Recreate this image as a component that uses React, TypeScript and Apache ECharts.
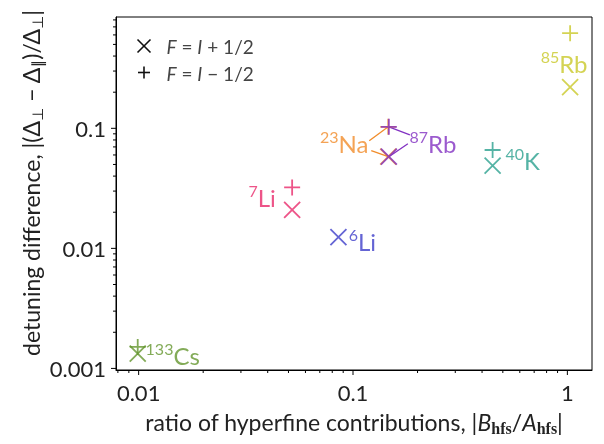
import React, { useEffect, useRef } from "react";
import * as echarts from "echarts";

// ---- data ----
const species = ["85Rb", "23Na", "87Rb", "40K", "7Li", "6Li", "133Cs"];
const massNumbers = ["85", "23", "87", "40", "7", "6", "133"];
const elements = ["Rb", "Na", "Rb", "K", "Li", "Li", "Cs"];
// ratio of hyperfine contributions |B_hfs / A_hfs|
const ratio = [1.03, 0.146, 0.147, 0.448, 0.052, 0.0855, 0.0099];
// detuning difference for F = I + 1/2 (×)
const detuningUpper = [0.22, 0.058, 0.058, 0.049, 0.0209, 0.0124, 0.00133];
// detuning difference for F = I - 1/2 (+)
const detuningLower = [0.62, 0.103, 0.103, 0.066, 0.0322, null, 0.00151];
const xTickLabels = ["0.01", "0.1", "1"];
const yTickLabels = ["0.001", "0.01", "0.1"];

// ---- styles ----
const colors = ["#c9c828", "#f18c2a", "#8231c2", "#2aa08e", "#e8296a", "#3d3dc9", "#64962e"];
const FONT = "Lato";
const X_MIN = 0.00784, X_MAX = 1.303;
const Y_MIN = 0.00097, Y_MAX = 0.846;

// label placement (pixel offsets of the label centre from the × marker)
const labelOffsets: Record<string, [number, number]> = {
  "85Rb": [-6, -24],
  "23Na": [-44, -13],
  "87Rb": [44, -13],
  "40K": [30, -5],
  "7Li": [-30, -12],
  "6Li": [24, 4],
  "133Cs": [35, 2],
};
// connector lines: species, which marker, pixel offset of the free end
const connectors: { sp: string; marker: "x" | "+"; off: [number, number] }[] = [
  { sp: "23Na", marker: "+", off: [-19, 14] },
  { sp: "23Na", marker: "x", off: [-17, -6] },
  { sp: "87Rb", marker: "+", off: [21, 8] },
  { sp: "87Rb", marker: "x", off: [19, -13] },
];

const CROSS = "path://M0,0L10,10M10,0L0,10";
const PLUS = "path://M5,0L5,10M0,5L10,5";

function decadeTicks(min: number, max: number) {
  const out: { v: number; major: boolean }[] = [];
  for (let e = Math.floor(Math.log10(min)); e <= Math.ceil(Math.log10(max)); e++) {
    for (let m = 1; m <= 9; m++) {
      const v = m * Math.pow(10, e);
      if (v >= min && v <= max) out.push({ v, major: m === 1 });
    }
  }
  return out;
}

function isPow10(v: number) {
  const l = Math.log10(v);
  return Math.abs(l - Math.round(l)) < 1e-6;
}

export default function App() {
  const ref = useRef<HTMLDivElement>(null);
  useEffect(() => {
    if (!ref.current) return;
    const chart = echarts.init(ref.current, null, { renderer: "svg" });

    const richSup = {
      s: { fontSize: 16, fontFamily: FONT, verticalAlign: "top", lineHeight: 16 },
      n: { fontSize: 24, fontFamily: FONT, lineHeight: 30 },
    };

    const scatterSeries: any[] = species.map((sp, i) => {
      const data: any[] = [];
      const off = labelOffsets[sp];
      data.push({
        value: [ratio[i], detuningUpper[i]],
        symbol: CROSS,
        label: {
          show: true,
          position: "inside",
          offset: off,
          align: "center",
          verticalAlign: "middle",
          formatter: `{s|${massNumbers[i]}}{n|${elements[i]}}`,
          color: colors[i],
          rich: {
            s: { ...richSup.s, color: colors[i] },
            n: { ...richSup.n, color: colors[i] },
          },
        },
      });
      if (detuningLower[i] != null) {
        data.push({ value: [ratio[i], detuningLower[i]], symbol: PLUS, label: { show: false } });
      }
      return {
        type: "scatter",
        name: sp,
        data,
        symbolSize: 16,
        z: 3,
        itemStyle: { color: "transparent", borderColor: colors[i], borderWidth: 1.8 },
        emphasis: { disabled: true },
      };
    });

    const connectorData = connectors.map((c) => {
      const i = species.indexOf(c.sp);
      const y = c.marker === "+" ? detuningLower[i] : detuningUpper[i];
      return [ratio[i], y, i, connectors.indexOf(c)];
    });

    const xTicks = decadeTicks(X_MIN, X_MAX);
    const yTicks = decadeTicks(Y_MIN, Y_MAX);

    const option: any = {
      animation: false,
      grid: {
        left: 116,
        right: 12,
        top: 17,
        bottom: 74,
        show: true,
        borderColor: "#000",
        borderWidth: 1,
        backgroundColor: "transparent",
        outerBoundsMode: "none",
      },
      xAxis: {
        type: "log",
        logBase: 10,
        min: X_MIN,
        max: X_MAX,
        splitLine: { show: false },
        axisTick: { show: false },
        axisLine: { lineStyle: { color: "#000", width: 1 } },
        axisLabel: {
          color: "#222",
          fontFamily: FONT,
          fontSize: 22,
          margin: 11,
          showMinLabel: false,
          showMaxLabel: false,
          formatter: (v: number) => {
            if (!isPow10(v)) return "";
            const idx = Math.round(Math.log10(v)) + 2;
            return xTickLabels[idx] ?? "";
          },
        },
        name: "ratio of hyperfine contributions, |{i|B}{sub|hfs}/{i|A}{sub|hfs}|",
        nameLocation: "middle",
        nameGap: 38,
        nameTextStyle: {
          color: "#222",
          fontFamily: FONT,
          fontSize: 23,
          lineHeight: 28,
          rich: {
            i: { fontStyle: "italic", fontFamily: FONT, fontSize: 23, color: "#222", lineHeight: 28 },
            sub: {
              fontFamily: "Liberation Serif",
              fontWeight: "bold",
              fontSize: 16,
              color: "#222",
              lineHeight: 16,
              verticalAlign: "bottom",
            },
          },
        },
      },
      yAxis: {
        type: "log",
        logBase: 10,
        min: Y_MIN,
        max: Y_MAX,
        splitLine: { show: false },
        axisTick: { show: false },
        axisLine: { lineStyle: { color: "#000", width: 1 } },
        axisLabel: {
          color: "#222",
          fontFamily: FONT,
          fontSize: 22,
          margin: 10,
          showMinLabel: false,
          showMaxLabel: false,
          formatter: (v: number) => {
            if (!isPow10(v)) return "";
            const idx = Math.round(Math.log10(v)) + 3;
            return yTickLabels[idx] ?? "";
          },
        },
      },
      graphic: [
        {
          type: "text",
          x: 31,
          y: 183,
          rotation: Math.PI / 2,
          style: {
            text: "detuning difference, |(Δ{sub|⊥} − Δ{sub|∥})/Δ{sub|⊥}|",
            fill: "#222",
            font: `23px ${FONT}`,
            align: "center",
            verticalAlign: "middle",
            rich: {
              sub: { fontSize: 15, fontFamily: "DejaVu Sans", fill: "#222", verticalAlign: "bottom", lineHeight: 15 },
            } as any,
            lineHeight: 28,
          } as any,
        },
        // legend
        {
          type: "group",
          left: 135,
          top: 37,
          children: [
            { type: "line", shape: { x1: 0, y1: 0, x2: 13, y2: 13 }, style: { stroke: "#111", lineWidth: 1.6 } },
            { type: "line", shape: { x1: 13, y1: 0, x2: 0, y2: 13 }, style: { stroke: "#111", lineWidth: 1.6 } },
            { type: "line", shape: { x1: 6.5, y1: 27, x2: 6.5, y2: 39 }, style: { stroke: "#111", lineWidth: 1.6 } },
            { type: "line", shape: { x1: 0.5, y1: 33, x2: 12.5, y2: 33 }, style: { stroke: "#111", lineWidth: 1.6 } },
            {
              type: "text",
              x: 29,
              y: 7,
              style: {
                text: "{i|F} = {i|I} + 1/2",
                fill: "#444",
                font: `19px ${FONT}`,
                verticalAlign: "middle",
                rich: { i: { fontStyle: "italic", fontSize: 19, fontFamily: FONT, fill: "#444" } } as any,
              } as any,
            },
            {
              type: "text",
              x: 29,
              y: 34,
              style: {
                text: "{i|F} = {i|I} − 1/2",
                fill: "#444",
                font: `19px ${FONT}`,
                verticalAlign: "middle",
                rich: { i: { fontStyle: "italic", fontSize: 19, fontFamily: FONT, fill: "#444" } } as any,
              } as any,
            },
          ],
        },
      ],
      series: [
        // minor/major x ticks
        {
          type: "custom",
          silent: true,
          clip: false,
          data: xTicks.map((t) => [t.v, Y_MIN, t.major ? 1 : 0]),
          renderItem: (params: any, api: any) => {
            const cs = params.coordSys;
            const px = api.coord([api.value(0), api.value(1)])[0];
            const y0 = cs.y + cs.height;
            const len = api.value(2) ? 5 : 3;
            return {
              type: "line",
              shape: { x1: px, y1: y0, x2: px, y2: y0 + len },
              style: { stroke: "#000", lineWidth: 1 },
            };
          },
        },
        {
          type: "custom",
          silent: true,
          clip: false,
          data: yTicks.map((t) => [X_MIN, t.v, t.major ? 1 : 0]),
          renderItem: (params: any, api: any) => {
            const cs = params.coordSys;
            const py = api.coord([api.value(0), api.value(1)])[1];
            const x0 = cs.x;
            const len = api.value(2) ? 5 : 3;
            return {
              type: "line",
              shape: { x1: x0, y1: py, x2: x0 - len, y2: py },
              style: { stroke: "#000", lineWidth: 1 },
            };
          },
        },
        // connector lines for overlapping labels
        {
          type: "custom",
          silent: true,
          z: 2,
          data: connectorData,
          renderItem: (params: any, api: any) => {
            const p = api.coord([api.value(0), api.value(1)]);
            const ci = api.value(3);
            const off = connectors[ci].off;
            return {
              type: "line",
              shape: { x1: p[0], y1: p[1], x2: p[0] + off[0], y2: p[1] + off[1] },
              style: { stroke: colors[api.value(2)], lineWidth: 1.3 },
            };
          },
        },
        ...scatterSeries,
      ],
    };

    chart.setOption(option);
    return () => chart.dispose();
  }, []);

  return <div ref={ref} style={{ position: "fixed", left: 0, top: 0, width: 604, height: 444 }} />;
}
